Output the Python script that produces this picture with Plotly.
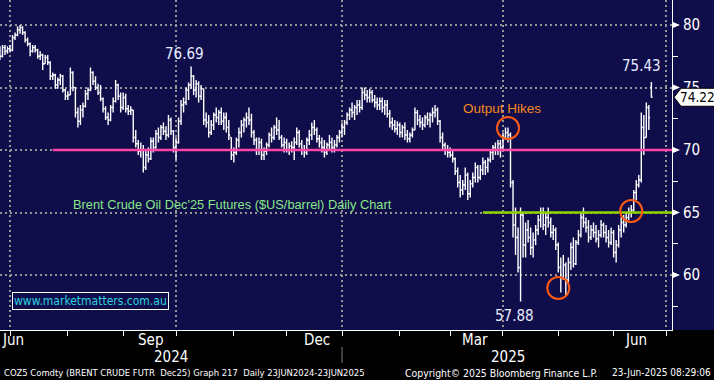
import plotly.graph_objects as go
import pandas as pd

# ---------------- data ----------------
start_date = "2024-06-24"
end_date = "2025-06-23"
dates = pd.bdate_range(start_date, end_date)

opens = [
    77.6, 78.0, 77.5, 78.2, 77.9, 78.1, 78.0, 79.0, 79.2, 79.6,
    79.8, 79.4, 78.8, 78.5, 77.9, 78.2, 78.0, 77.5, 77.6, 76.9,
    77.4, 77.0, 75.9, 76.0, 75.2, 75.6, 75.9, 74.8, 74.3, 74.4,
    76.2, 75.0, 73.0, 72.3, 73.2, 73.5, 74.5, 74.8, 76.2, 75.5,
    75.0, 74.6, 74.1, 73.3, 72.6, 72.4, 73.4, 73.9, 75.2, 74.3,
    73.4, 74.2, 73.3, 73.1, 73.2, 71.0, 70.5, 69.9, 70.0, 68.6,
    69.6, 69.3, 70.7, 70.2, 71.3, 71.0, 71.8, 71.5, 71.2, 72.4,
    71.5, 70.2, 70.6, 72.3, 73.6, 73.8, 74.8, 75.2, 75.9, 74.8,
    75.3, 74.3, 74.9, 72.4, 72.2, 71.4, 72.0, 72.8, 72.6, 73.0,
    72.3, 72.6, 71.8, 71.0, 69.6, 69.8, 70.8, 71.4, 72.0, 72.4,
    72.6, 72.4, 71.4, 70.8, 70.0, 70.6, 69.6, 69.9, 70.4, 71.2,
    71.0, 71.8, 71.6, 71.0, 70.4, 70.6, 70.0, 70.3, 70.2, 70.6,
    71.4, 70.5, 70.0, 69.8, 70.8, 71.2, 71.8, 71.6, 70.9, 70.6,
    70.2, 69.8, 70.4, 70.6, 70.2, 70.4, 71.0, 71.4, 71.8, 72.2,
    72.8, 73.2, 73.0, 73.4, 73.6, 73.4, 74.6, 74.4, 74.2, 74.6,
    74.0, 73.8, 73.6, 73.9, 73.4, 73.6, 72.9, 72.2, 72.0, 71.7,
    72.0, 71.4, 71.8, 71.2, 70.9, 71.2, 71.6, 73.0, 72.4, 72.2,
    72.0, 72.6, 72.4, 72.8, 73.0, 73.2, 72.3, 71.0, 70.4, 70.0,
    69.8, 69.6, 69.3, 68.3, 67.4, 66.8, 67.2, 68.0, 66.5, 67.3,
    67.8, 68.6, 67.8, 68.4, 69.0, 68.6, 69.2, 69.8, 70.2, 70.0,
    70.5, 70.2, 71.0, 71.4, 71.2, 67.4, 64.0, 63.0, 60.6, 64.8,
    62.4, 63.6, 63.0, 62.2, 62.8, 63.6, 64.4, 65.0, 64.0, 64.6,
    64.2, 63.4, 63.6, 62.4, 60.6, 59.8, 60.8, 59.6, 61.0, 62.2,
    60.9, 62.6, 63.2, 64.6, 64.2, 63.8, 63.0, 63.6, 63.4, 62.9,
    63.2, 64.0, 63.4, 63.0, 62.6, 63.4, 61.8, 62.4, 63.6, 64.2,
    64.0, 64.6, 65.0, 65.2, 66.6, 67.2, 67.6, 71.8, 71.0, 73.4,
    75.0,
]
highs = [
    78.3, 78.3, 78.4, 78.4, 78.3, 78.4, 79.2, 79.4, 79.9, 80.0,
    79.9, 79.5, 79.0, 78.6, 78.4, 78.4, 78.1, 77.9, 77.7, 77.6,
    77.6, 77.1, 76.2, 76.1, 75.8, 76.1, 76.0, 74.9, 74.7, 76.6,
    76.3, 75.0, 73.4, 73.6, 73.8, 74.8, 75.0, 76.6, 76.3, 75.9,
    75.3, 75.2, 74.2, 73.5, 73.0, 73.6, 74.2, 75.6, 75.3, 74.6,
    74.6, 74.5, 73.6, 73.5, 73.2, 71.6, 70.8, 70.6, 70.4, 70.0,
    70.2, 71.0, 71.0, 71.6, 71.8, 72.0, 72.2, 71.9, 72.8, 72.6,
    71.6, 71.0, 72.6, 74.0, 74.2, 75.0, 75.4, 76.69, 76.0, 75.6,
    75.5, 75.2, 74.9, 73.0, 72.8, 72.4, 73.0, 73.4, 73.2, 73.4,
    73.0, 73.0, 72.4, 71.0, 70.2, 71.0, 71.8, 72.4, 72.6, 73.0,
    73.4, 72.9, 71.6, 71.0, 71.0, 70.9, 70.2, 70.6, 71.4, 71.8,
    72.0, 72.6, 72.4, 71.2, 71.0, 70.9, 70.6, 70.7, 71.0, 71.8,
    71.6, 70.8, 70.4, 71.0, 71.6, 72.2, 72.4, 71.8, 71.2, 71.0,
    70.8, 70.6, 71.2, 71.0, 70.8, 71.2, 71.6, 72.2, 72.4, 73.0,
    73.4, 73.8, 73.6, 74.0, 74.0, 75.0, 75.0, 74.8, 74.9, 74.8,
    74.4, 74.2, 74.2, 74.2, 74.0, 74.0, 73.2, 72.6, 72.4, 72.3,
    72.2, 72.0, 72.2, 71.6, 71.4, 71.8, 73.4, 73.2, 72.8, 72.6,
    72.8, 73.0, 73.0, 73.4, 73.6, 73.4, 72.4, 71.4, 70.6, 70.4,
    70.2, 70.0, 69.4, 68.6, 68.0, 67.6, 68.6, 68.2, 67.6, 68.2,
    69.0, 68.8, 68.8, 69.4, 69.2, 69.4, 70.0, 70.4, 70.6, 70.8,
    70.8, 71.4, 71.8, 71.8, 71.4, 67.6, 65.4, 63.8, 65.4, 65.0,
    64.2, 64.4, 63.8, 63.4, 64.0, 64.8, 65.4, 65.4, 65.0, 65.4,
    64.6, 64.0, 63.8, 62.6, 61.4, 61.6, 61.0, 61.4, 62.6, 63.0,
    62.8, 63.6, 65.0, 65.4, 64.6, 64.4, 64.0, 64.2, 64.0, 63.6,
    64.4, 64.2, 64.0, 63.6, 63.8, 63.6, 62.8, 64.0, 64.6, 64.8,
    65.0, 65.4, 65.6, 66.8, 67.6, 68.0, 73.0, 72.8, 73.8, 73.6,
    75.43,
]
lows = [
    77.3, 77.2, 77.4, 77.6, 77.7, 77.8, 77.9, 78.8, 79.1, 79.3,
    79.2, 78.6, 78.3, 77.5, 77.8, 77.8, 77.3, 77.2, 76.4, 76.9,
    76.8, 75.6, 75.6, 74.9, 74.9, 75.2, 74.6, 74.0, 74.0, 74.4,
    74.7, 72.6, 71.8, 72.0, 72.6, 73.4, 74.0, 74.7, 75.2, 74.8,
    74.4, 73.9, 73.0, 72.4, 72.0, 72.3, 73.0, 73.8, 74.0, 73.0,
    73.2, 73.0, 72.8, 72.8, 70.6, 70.2, 69.6, 69.4, 68.2, 68.4,
    69.0, 69.2, 69.8, 70.1, 70.6, 70.8, 71.2, 70.8, 71.0, 71.2,
    69.8, 69.2, 70.5, 72.0, 73.0, 73.6, 74.0, 74.9, 74.4, 74.2,
    73.8, 74.0, 72.0, 71.8, 71.0, 71.2, 71.6, 72.2, 72.0, 72.0,
    71.6, 71.4, 70.8, 69.2, 69.0, 69.6, 70.2, 71.0, 71.4, 71.8,
    72.0, 71.0, 70.4, 69.6, 69.6, 69.2, 69.2, 69.6, 70.2, 70.6,
    70.8, 71.2, 70.8, 70.2, 69.8, 69.8, 69.6, 69.8, 69.2, 70.4,
    70.2, 69.6, 69.4, 69.6, 70.4, 70.8, 71.2, 70.6, 70.2, 69.8,
    69.4, 69.6, 70.0, 69.8, 69.8, 70.2, 70.6, 71.0, 71.2, 72.0,
    72.4, 72.6, 72.4, 72.8, 73.0, 73.2, 74.0, 73.8, 73.8, 73.8,
    73.4, 73.2, 73.2, 73.0, 72.8, 72.6, 71.8, 71.6, 71.4, 71.2,
    71.0, 71.0, 70.8, 70.6, 70.6, 71.0, 71.6, 72.0, 71.8, 71.6,
    71.8, 72.0, 71.8, 72.2, 72.6, 72.0, 70.6, 70.0, 69.6, 69.4,
    69.4, 69.0, 68.0, 67.0, 66.2, 66.4, 66.8, 66.0, 66.2, 67.0,
    67.4, 67.4, 67.6, 68.0, 68.0, 68.2, 69.0, 69.2, 69.6, 69.6,
    69.4, 70.0, 70.8, 70.6, 67.0, 63.0, 61.6, 60.2, 57.88, 61.4,
    61.4, 62.6, 61.6, 61.4, 62.4, 63.2, 63.8, 63.6, 63.2, 63.8,
    63.0, 62.8, 62.0, 60.2, 58.6, 59.6, 58.4, 59.4, 60.4, 60.6,
    60.8, 62.4, 63.0, 63.8, 63.4, 62.6, 62.8, 63.0, 62.6, 62.2,
    63.0, 63.0, 62.6, 62.2, 62.4, 61.4, 61.0, 62.2, 63.0, 63.4,
    63.8, 64.4, 64.6, 65.0, 66.0, 67.0, 67.4, 69.6, 71.0, 71.6,
    74.2,
]
closes = [
    78.0, 77.5, 78.2, 77.9, 78.1, 78.0, 79.0, 79.2, 79.6, 79.8,
    79.4, 78.8, 78.5, 77.9, 78.2, 78.0, 77.5, 77.6, 76.9, 77.4,
    77.0, 75.9, 76.0, 75.2, 75.6, 75.9, 74.8, 74.3, 74.4, 76.2,
    75.0, 73.0, 72.3, 73.2, 73.5, 74.5, 74.8, 76.2, 75.5, 75.0,
    74.6, 74.1, 73.3, 72.6, 72.4, 73.4, 73.9, 75.2, 74.3, 73.4,
    74.2, 73.3, 73.1, 73.2, 71.0, 70.5, 69.9, 70.0, 68.6, 69.6,
    69.3, 70.7, 70.2, 71.3, 71.0, 71.8, 71.5, 71.2, 72.4, 71.5,
    70.2, 70.6, 72.3, 73.6, 73.8, 74.8, 75.2, 75.9, 74.8, 75.3,
    74.3, 74.9, 72.4, 72.2, 71.4, 72.0, 72.8, 72.6, 73.0, 72.3,
    72.6, 71.8, 71.2, 69.6, 69.8, 70.8, 71.4, 72.0, 72.4, 72.6,
    72.4, 71.4, 70.8, 70.0, 70.6, 69.6, 69.9, 70.4, 71.2, 71.0,
    71.8, 71.6, 71.0, 70.4, 70.6, 70.0, 70.3, 70.2, 70.6, 71.4,
    70.5, 70.0, 69.8, 70.8, 71.2, 71.8, 71.6, 70.9, 70.6, 70.2,
    69.8, 70.4, 70.6, 70.2, 70.4, 71.0, 71.4, 71.8, 72.2, 72.8,
    73.2, 73.0, 73.4, 73.6, 73.4, 74.6, 74.4, 74.2, 74.6, 74.0,
    73.8, 73.6, 73.9, 73.4, 73.6, 72.9, 72.2, 72.0, 71.7, 72.0,
    71.4, 71.8, 71.2, 70.9, 71.2, 71.6, 73.0, 72.4, 72.2, 72.0,
    72.6, 72.4, 72.8, 73.0, 73.2, 72.3, 71.0, 70.4, 70.0, 69.8,
    69.6, 69.3, 68.3, 67.4, 66.8, 67.2, 68.0, 66.5, 67.3, 67.8,
    68.6, 67.8, 68.4, 69.0, 68.6, 69.2, 69.8, 70.2, 70.0, 70.5,
    70.2, 71.0, 71.4, 71.2, 67.4, 64.0, 63.0, 60.6, 64.8, 62.4,
    63.6, 63.0, 62.2, 62.8, 63.6, 64.4, 65.0, 64.0, 64.6, 64.2,
    63.4, 63.6, 62.4, 60.6, 59.8, 60.8, 59.6, 61.0, 62.2, 60.9,
    62.6, 63.2, 64.6, 64.2, 63.8, 63.0, 63.6, 63.4, 62.9, 63.2,
    64.0, 63.4, 63.0, 62.6, 63.4, 61.8, 62.4, 63.6, 64.2, 64.0,
    64.6, 65.0, 65.2, 66.6, 67.2, 67.6, 71.8, 71.0, 73.4, 72.6,
    74.22,
]
assert len(opens) == len(highs) == len(lows) == len(closes) == len(dates), (
    len(opens), len(highs), len(lows), len(closes), len(dates))

y_ticks = [60, 65, 70, 75, 80]
y_minor_ticks = [57.5, 62.5, 67.5, 72.5, 77.5]
quarter_starts = ["2024-07-01", "2024-10-01", "2025-01-01", "2025-04-01", "2025-07-01"]
month_starts = ["2024-08-01", "2024-09-02", "2024-11-01", "2024-12-02",
                "2025-02-03", "2025-03-03", "2025-05-01", "2025-06-02"]
month_labels = ["Jun", "Sep", "Dec", "Mar", "Jun"]
month_label_dates = ["2024-07-02", "2024-09-17", "2024-12-18", "2025-03-17", "2025-06-13"]
year_labels = ["2024", "2025"]
year_label_dates = ["2024-09-27", "2025-04-03"]
year_split = "2025-01-01"

level_values = [70, 65]
level_starts = ["2024-07-24", "2025-03-20"]
level_colors = ["#ff45a8", "#8fd400"]
level_end = "2025-07-15"

circle_dates = ["2025-04-03", "2025-05-01", "2025-06-11"]
circle_prices = [71.76, 58.96, 65.12]

# ---------------- styles ----------------
BG = "#100d4b"
GRID = "#959595"
NARROW = "Liberation Sans Narrow, Arial Narrow, DejaVu Sans Condensed, sans-serif"
ARIAL = "Liberation Sans, Arial, sans-serif"
Y_MIN, Y_MAX = 55.6, 82.0
X_RANGE = ["2024-06-25 00:30", "2025-07-03 05:00"]

fig = go.Figure()

for lvl, st, col in zip(level_values, level_starts, level_colors):
    fig.add_trace(go.Scatter(x=[st, level_end], y=[lvl, lvl], mode="lines",
                             line=dict(color=col, width=2.5), hoverinfo="skip",
                             showlegend=False))

fig.add_trace(go.Ohlc(
    x=dates, open=opens, high=highs, low=lows, close=closes,
    increasing=dict(line=dict(color="white", width=1.4)),
    decreasing=dict(line=dict(color="white", width=1.4)),
    tickwidth=0.5, showlegend=False,
))

shapes = []
# black strip below the plot area
shapes.append(dict(type="rect", xref="paper", yref="paper", x0=-0.1, x1=1.2,
                   y0=-0.3, y1=0, fillcolor="black", line=dict(width=0), layer="below"))
# year separator
shapes.append(dict(type="line", xref="x", yref="paper", x0=year_split, x1=year_split,
                   y0=-0.0515, y1=-0.1, line=dict(color="#808080", width=1)))
# tick triangles on right axis
for v in y_ticks:
    shapes.append(dict(type="path", xref="paper", yref="y", xsizemode="pixel",
                       ysizemode="pixel", xanchor=1, yanchor=v,
                       path="M1,3 L8,0 L1,-3 Z", fillcolor="white",
                       line=dict(width=0)))
# orange circles
for d, p in zip(circle_dates, circle_prices):
    shapes.append(dict(type="circle", xref="x", yref="y", xsizemode="pixel",
                       ysizemode="pixel", xanchor=d, yanchor=p,
                       x0=-11, x1=11, y0=-11, y1=11,
                       line=dict(color="#ff5a12", width=2)))
# last price tag
last_price = closes[-1]
shapes.append(dict(type="path", xref="paper", yref="y", xsizemode="pixel",
                   ysizemode="pixel", xanchor=1, yanchor=last_price,
                   path="M2,0 L9,9 L48,9 L48,-9 L9,-9 Z",
                   fillcolor="white", line=dict(color="black", width=1)))

annotations = []
for lab, d in zip(month_labels, month_label_dates):
    annotations.append(dict(x=d, xref="x", y=-0.0303, yref="paper", text=lab,
                            showarrow=False, xanchor="center", yanchor="middle",
                            font=dict(family=NARROW, size=15, color="white")))
for lab, d in zip(year_labels, year_label_dates):
    annotations.append(dict(x=d, xref="x", y=-0.0818, yref="paper", text=lab,
                            showarrow=False, xanchor="center", yanchor="middle",
                            font=dict(family=NARROW, size=15, color="white")))

annotations += [
    dict(x=2 / 672, y=-0.1303, xref="paper", yref="paper", xanchor="left", yanchor="middle",
         text="COZ5 Comdty (BRENT CRUDE FUTR  Dec25) Graph 217  Daily 23JUN2024-23JUN2025",
         showarrow=False, font=dict(family=NARROW, size=9.4, color="white")),
    dict(x=403 / 672, y=-0.1303, xref="paper", yref="paper", xanchor="left", yanchor="middle",
         text="Copyright© 2025 Bloomberg Finance L.P.", showarrow=False,
         font=dict(family=NARROW, size=10.4, color="white")),
    dict(x=713 / 672, y=-0.1303, xref="paper", yref="paper", xanchor="right", yanchor="middle",
         text="23-Jun-2025 08:29:06", showarrow=False,
         font=dict(family=NARROW, size=10, color="white")),
]

# price labels
autumn = highs[50:150]
i_max = 50 + autumn.index(max(autumn))
i_min = lows.index(min(lows))
num_font = dict(family=NARROW, size=15, color="#e6ecff")
annotations += [
    dict(x=dates[i_max], y=highs[i_max], xref="x", yref="y", text=f"{highs[i_max]:.2f}",
         showarrow=False, xanchor="center", yanchor="bottom", xshift=-7, yshift=1, font=num_font),
    dict(x=dates[-1], y=highs[-1], xref="x", yref="y", text=f"{highs[-1]:.2f}",
         showarrow=False, xanchor="center", yanchor="bottom", xshift=-10, yshift=5, font=num_font),
    dict(x=dates[i_min], y=lows[i_min], xref="x", yref="y", text=f"{lows[i_min]:.2f}",
         showarrow=False, xanchor="center", yanchor="top", xshift=-6, yshift=-3, font=num_font),
    dict(x=1, xref="paper", y=last_price, yref="y", text=f"{last_price:.2f}",
         showarrow=False, xanchor="center", yanchor="middle", xshift=25,
         font=dict(family=NARROW, size=13.5, color="black")),
    dict(x=circle_dates[0], y=circle_prices[0], xref="x", yref="y", text="Output Hikes",
         showarrow=False, xanchor="center", yanchor="middle", xshift=-6, yshift=20,
         font=dict(family=ARIAL, size=13.5, color="#f5891e")),
    dict(x=71 / 672, y=0.3788, xref="paper", yref="paper", xanchor="left", yanchor="middle",
         text="Brent Crude Oil Dec'25 Futures ($US/barrel) Daily Chart", showarrow=False,
         font=dict(family=ARIAL, size=12.8, color="#86e886")),
    dict(x=12 / 672, y=0.0864, xref="paper", yref="paper", xanchor="left", yanchor="middle",
         text="www.marketmatters.com.au", showarrow=False, bordercolor="white",
         borderwidth=1, borderpad=1,
         font=dict(family=NARROW, size=12, color="#2fd3e2")),
]

fig.update_layout(
    width=714, height=380,
    margin=dict(l=0, r=42, t=0, b=50),
    paper_bgcolor=BG, plot_bgcolor=BG,
    showlegend=False,
    shapes=shapes, annotations=annotations,
    xaxis=dict(
        type="date", range=X_RANGE,
        rangebreaks=[dict(bounds=["sat", "mon"])],
        rangeslider=dict(visible=False),
        tickvals=quarter_starts, ticktext=[""] * len(quarter_starts),
        ticks="outside", ticklen=5, tickcolor="white", tickwidth=1,
        showline=True, linecolor="white", linewidth=1,
        showgrid=True, gridcolor=GRID, gridwidth=2, griddash="2px,3px",
        minor=dict(tickvals=month_starts, ticks="outside", ticklen=5,
                   tickcolor="white", tickwidth=1, showgrid=False),
        zeroline=False, fixedrange=True,
    ),
    yaxis=dict(
        side="right", range=[Y_MIN, Y_MAX],
        tickvals=y_ticks, ticktext=[str(v) for v in y_ticks],
        ticks="outside", ticklen=7, tickcolor=BG,
        tickfont=dict(family=NARROW, size=15, color="white"),
        showline=True, linecolor="white", linewidth=1,
        showgrid=True, gridcolor=GRID, gridwidth=2, griddash="2px,3px",
        minor=dict(tickvals=y_minor_ticks, ticks="outside", ticklen=5,
                   tickcolor="white", tickwidth=1, showgrid=False),
        zeroline=False, fixedrange=True,
    ),
)

fig.write_html("out.html", config={"displayModeBar": False},
               post_script="document.body.style.margin='0';document.body.style.background='black';")
